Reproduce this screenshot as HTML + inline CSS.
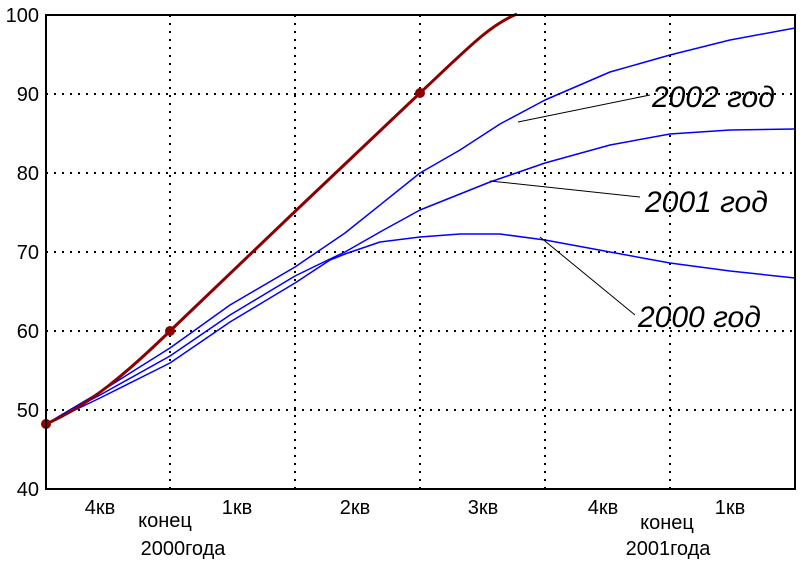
<!DOCTYPE html><html><head><meta charset="utf-8"><style>body{margin:0;background:#fff}svg{display:block}text{font-family:"Liberation Sans",sans-serif}</style></head><body>
<svg width="803" height="561" viewBox="0 0 803 561">
<g stroke="#000" stroke-width="2" stroke-dasharray="2,6">
<line x1="170" y1="15" x2="170" y2="489"/><line x1="295" y1="15" x2="295" y2="489"/><line x1="420" y1="15" x2="420" y2="489"/><line x1="545" y1="15" x2="545" y2="489"/><line x1="670" y1="15" x2="670" y2="489"/>
<line x1="46" y1="94" x2="795" y2="94"/><line x1="46" y1="173" x2="795" y2="173"/><line x1="46" y1="252" x2="795" y2="252"/><line x1="46" y1="331" x2="795" y2="331"/><line x1="46" y1="410" x2="795" y2="410"/>
</g>
<g fill="none" stroke="#0000ff" stroke-width="1.5" stroke-linejoin="round">
<polyline points="46,424 100,392 170,348 230,305 295,267 345,233 420,173 460,150 500,124 545,100 610,72 670,55 730,40 795,28"/>
<polyline points="46,424 100,395 170,356 230,315 295,276 330,259 345,252 380,232 420,210 490,182 545,163 610,145 670,134 730,130 795,129"/>
<polyline points="46,424 100,398 170,363 230,322 295,283 330,260 345,254 380,242 420,237 460,234 500,234 545,240 610,252 670,263 730,271 795,278"/>
</g>
<path d="M46,424 C90,405 130,370 170,331 S370,140 420,93 S490,25 517,14" fill="none" stroke="#8b0000" stroke-width="3"/>
<g fill="#8b0000"><circle cx="46" cy="424" r="5"/><circle cx="170" cy="331" r="5"/><circle cx="420" cy="93" r="5"/></g>
<g stroke="#000" stroke-width="1"><line x1="518" y1="122" x2="650" y2="95"/><line x1="490" y1="181" x2="640" y2="197"/><line x1="540" y1="237" x2="635" y2="315"/></g>
<rect x="46" y="15" width="749" height="474" fill="none" stroke="#000" stroke-width="2"/>
<g font-size="30" font-style="italic" fill="#000">
<text x="652" y="107">2002 год</text><text x="645" y="212">2001 год</text><text x="638" y="327">2000 год</text></g>
<g font-size="20" text-anchor="end"><text x="39" y="22">100</text><text x="39" y="101">90</text><text x="39" y="180">80</text><text x="39" y="259">70</text><text x="39" y="338">60</text><text x="39" y="417">50</text><text x="39" y="496">40</text></g>
<g font-size="20" text-anchor="middle">
<text x="100" y="514">4кв</text><text x="237" y="514">1кв</text><text x="355" y="514">2кв</text><text x="483" y="514">3кв</text><text x="603" y="514">4кв</text><text x="730" y="514">1кв</text>
<text x="165" y="527">конец</text><text x="183" y="555">2000года</text><text x="667" y="529">конец</text><text x="668" y="555">2001года</text></g>
</svg></body></html>
